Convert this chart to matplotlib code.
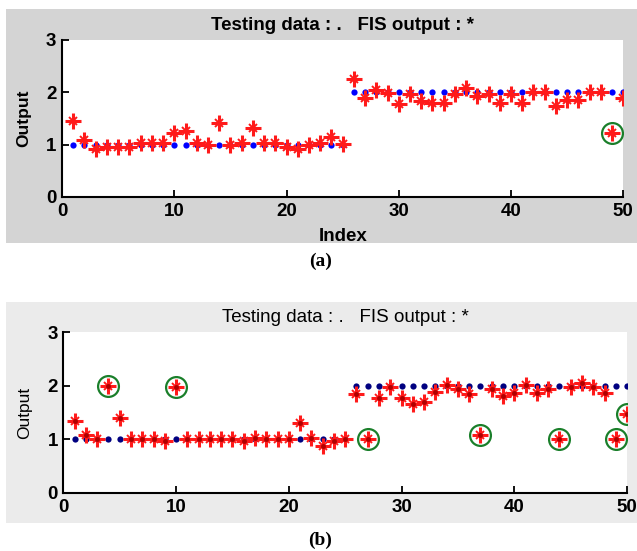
import matplotlib
matplotlib.use("Agg")
import matplotlib.pyplot as plt
from matplotlib.patches import Rectangle
import numpy as np

# ---- data ----
index = np.arange(1, 51)
testing = [1] * 25 + [2] * 25

fis_a = [1.45, 1.09, 0.91, 0.95, 0.95, 0.95, 1.03, 1.03, 1.03, 1.22,
         1.26, 1.03, 0.99, 1.41, 0.99, 1.03, 1.32, 1.03, 1.03, 0.95,
         0.92, 0.99, 1.03, 1.14, 1.02, 2.25, 1.90, 2.04, 1.98, 1.77,
         1.96, 1.83, 1.79, 1.79, 1.96, 2.08, 1.92, 1.96, 1.79, 1.96,
         1.79, 2.00, 2.00, 1.74, 1.85, 1.85, 2.00, 2.00, 1.22, 1.90]
circled_a = [49]

fis_b = [1.34, 1.08, 1.00, 2.00, 1.39, 1.00, 1.00, 1.00, 0.97, 1.98,
         1.00, 1.00, 1.00, 1.00, 1.00, 0.97, 1.03, 1.00, 1.00, 1.00,
         1.31, 1.03, 0.88, 0.97, 1.01, 1.85, 1.00, 1.78, 1.98, 1.78,
         1.65, 1.70, 1.88, 2.02, 1.94, 1.84, 1.09, 1.94, 1.80, 1.86,
         2.02, 1.86, 1.93, 1.00, 1.98, 2.05, 1.98, 1.86, 1.00, 1.47]
circled_b = [4, 10, 27, 37, 44, 49, 50]

title = "Testing data : .   FIS output : *"
FONT = ["Liberation Sans Narrow", "Liberation Sans", "DejaVu Sans"]

fig = plt.figure(figsize=(6.37, 5.51), dpi=100)

# grey MATLAB-style figure backgrounds
for y0, h, col in [(0.559, 0.4247, "#d4d4d4"), (0.0508, 0.401, "#ebebeb")]:
    fig.add_artist(Rectangle((0.0094, y0), 0.99, h, transform=fig.transFigure,
                             facecolor=col, edgecolor="none", zorder=-5))


def panel(ax, fis, circled, blue, star_center, bold):
    weight = "bold" if bold else "normal"
    ax.plot(index, testing, "o", color=blue, ms=4.5, mec="none", zorder=2)
    ax.plot(index, fis, "+", color="#ff1a1a", ms=11, mew=2.2, zorder=3)
    ax.plot(index, fis, "x", color="#ff1a1a", ms=6, mew=1.4, zorder=3)
    if star_center:
        ax.plot(index, fis, "o", color=star_center, ms=3.5, mec="none", zorder=4)
    idx = [i - 1 for i in circled]
    ax.plot(np.array(index)[idx], np.array(fis)[idx], "o", mfc="none",
            mec="#1a7f2a", ms=15, mew=1.6, zorder=5)

    ax.set_xlim(0, 50)
    ax.set_ylim(0, 3)
    ax.set_xticks(range(0, 51, 10))
    ax.set_yticks([0, 1, 2, 3])
    ax.tick_params(direction="in", length=5, width=1.3, labelsize=13.5, pad=4)
    for lab in ax.get_xticklabels() + ax.get_yticklabels():
        lab.set_family(FONT)
        lab.set_fontweight("bold")
    for s in ("top", "right"):
        ax.spines[s].set_visible(False)
    for s in ("left", "bottom"):
        ax.spines[s].set_linewidth(1.5)
    ax.set_ylabel("Output", fontsize=12.5, fontweight=weight, family=FONT, labelpad=11)
    ax.set_title(title, fontsize=13.5, fontweight=weight, family=FONT, pad=7)


ax_a = fig.add_axes([0.0974, 0.6425, 0.881, 0.285])
panel(ax_a, fis_a, circled_a, "#0000ff", None, True)
ax_a.set_xlabel("Index", fontsize=13.5, fontweight="bold", family=FONT, labelpad=6)

ax_b = fig.add_axes([0.0994, 0.1053, 0.885, 0.292])
panel(ax_b, fis_b, circled_b, "#000080", "#b00000", False)

fig.text(0.503, 0.525, "(a)", ha="center", va="center", fontsize=14,
         fontweight="bold", family="Liberation Serif")
fig.text(0.503, 0.02, "(b)", ha="center", va="center", fontsize=14,
         fontweight="bold", family="Liberation Serif")

fig.savefig("out.png", dpi=100)
